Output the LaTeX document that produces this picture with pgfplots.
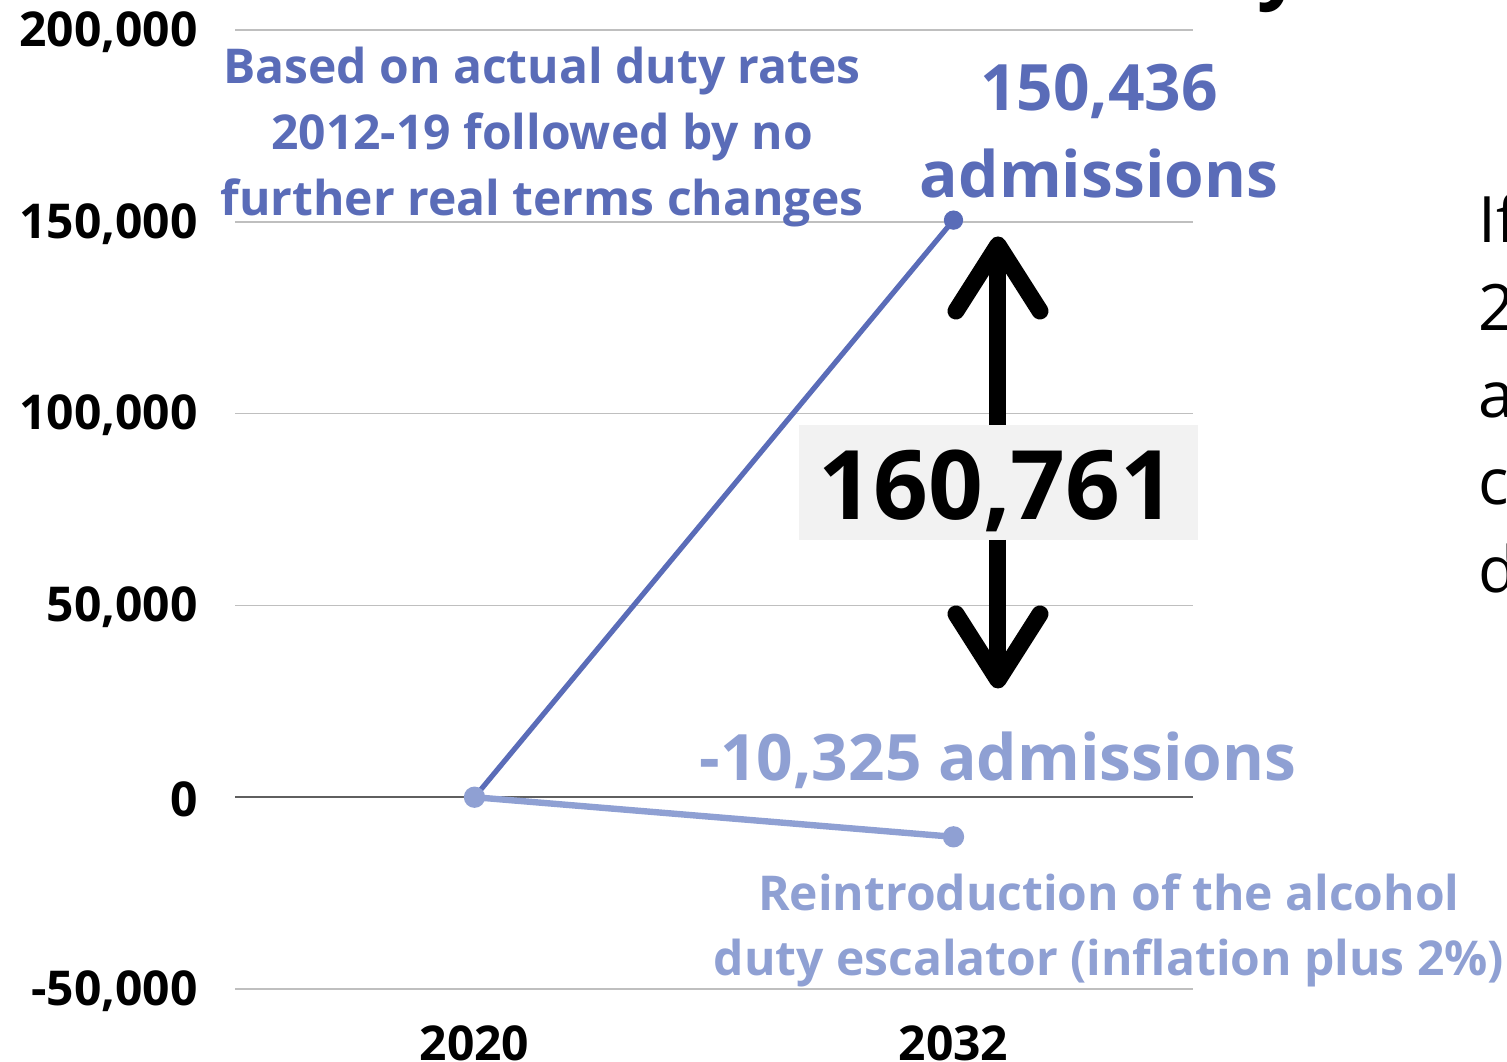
\documentclass[border=0pt]{standalone}
\usepackage{fontspec}
\setmainfont{Open Sans}
\usepackage{pgfplots}
\pgfplotsset{compat=1.18}

\definecolor{darkser}{HTML}{5A6CB8}
\definecolor{lightser}{HTML}{8FA0D3}
\definecolor{gridgrey}{HTML}{BFBFBF}
\definecolor{zerogrey}{HTML}{5F5F5F}
\definecolor{boxgrey}{HTML}{F2F2F2}

\begin{document}
\begin{tikzpicture}
\useasboundingbox (0,0) rectangle (753.5bp,-531bp);
\clip (0,0) rectangle (753.5bp,-531bp);

\begin{axis}[
  at={(117.5bp,-494.5bp)}, anchor=south west,
  scale only axis, width=479bp, height=479.5bp,
  xmin=-0.5, xmax=1.5, ymin=-50000, ymax=200000,
  xtick={0,1}, xticklabels={2020,2032},
  ytick={-50000,0,50000,100000,150000,200000},
  yticklabels={{-50,000},{0},{50,000},{100,000},{150,000},{200,000}},
  scaled y ticks=false,
  axis line style={draw=none}, major tick length=0pt,
  ymajorgrids, grid style={gridgrey, line width=0.7bp},
  extra y ticks={0}, extra y tick labels={},
  extra y tick style={grid style={zerogrey, line width=0.8bp}},
  ticklabel style={font=\fontsize{24bp}{28bp}\selectfont\bfseries, inner sep=0pt},
  yticklabel style={xshift=-18.5bp, yshift=-1bp},
  xticklabel style={yshift=-18bp},
  clip=false,
]
% no further real terms changes
\addplot[darkser, line width=2.6bp, mark=*, mark size=3.5bp,
  mark options={solid, draw=none, fill=darkser}] coordinates {(0,0) (1,150436)};
% duty escalator reintroduced
\addplot[lightser, line width=3.2bp, mark=*, mark size=3.7bp,
  mark options={solid, draw=none, fill=lightser}] coordinates {(0,0) (1,-10325)};
\end{axis}

\begin{scope}[x=0.5bp, y=-0.5bp]
  % difference box and arrows
  \fill[boxgrey] (799,425) rectangle (1198,540);
  \draw[line width=8.5bp, line cap=round, line join=round] (956,311) -- (998,245) -- (1040,311);
  \draw[line width=8.5bp] (998,252) -- (998,425);
  \draw[line width=8.5bp, line cap=round, line join=round] (956,614) -- (998,680) -- (1040,614);
  \draw[line width=8.5bp] (998,540) -- (998,673);
  \node[anchor=base, inner sep=0pt, font=\fontsize{48bp}{50bp}\selectfont\bfseries] at (997,520) {160,761};

  % series notes
  \node[align=center, inner sep=0pt, text=darkser,
    font=\fontsize{24bp}{33bp}\selectfont\bfseries] at (542,137)
    {Based on actual duty rates\\2012-19 followed by no\\further real terms changes};
  \node[align=center, inner sep=0pt, text=darkser,
    font=\fontsize{32bp}{43.5bp}\selectfont\bfseries] at (1099,131)
    {150,436\\admissions};
  \node[inner sep=0pt, text=lightser,
    font=\fontsize{32bp}{40bp}\selectfont\bfseries] at (998,760)
    {-10,325 admissions};
  \node[align=center, inner sep=0pt, text=lightser,
    font=\fontsize{24bp}{32.5bp}\selectfont\bfseries] at (1109,930)
    {Reintroduction of the alcohol\\duty escalator (inflation plus 2\%)};

  % text cut off at the right and top edges
  \node[anchor=base west, inner sep=0pt, font=\fontsize{32bp}{40bp}\selectfont] at (1478,243) {If};
  \node[anchor=base west, inner sep=0pt, font=\fontsize{32bp}{40bp}\selectfont] at (1478,331) {2};
  \node[anchor=base west, inner sep=0pt, font=\fontsize{32bp}{40bp}\selectfont] at (1478,418) {a};
  \node[anchor=base west, inner sep=0pt, font=\fontsize{32bp}{40bp}\selectfont] at (1478,505) {c};
  \node[anchor=base west, inner sep=0pt, font=\fontsize{32bp}{40bp}\selectfont] at (1478,593) {d};
  \node[anchor=base, inner sep=0pt, font=\fontsize{40bp}{40bp}\selectfont\bfseries] at (1280,-7) {y};
\end{scope}
\end{tikzpicture}
\end{document}
